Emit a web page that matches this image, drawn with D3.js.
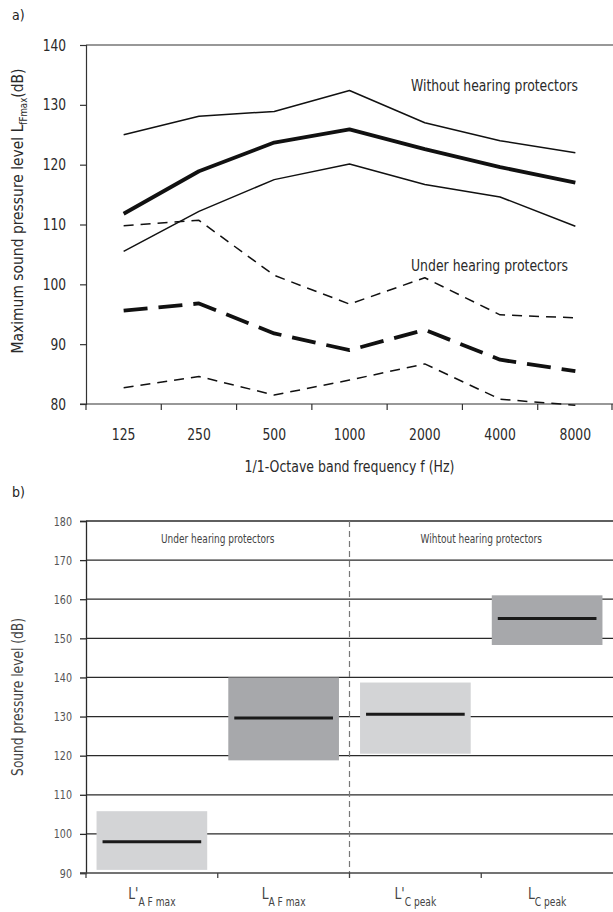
<!DOCTYPE html>
<html>
<head>
<meta charset="utf-8">
<script src="https://cdn.jsdelivr.net/npm/d3@7"></script>
<style>
  html, body { margin: 0; padding: 0; background: #fff; }
  svg { display: block; }
  text { font-family: "Liberation Sans Narrow", "DejaVu Sans Condensed", "Roboto", sans-serif; }
</style>
</head>
<body>
<svg id="chart" width="613" height="912"></svg>
<script>
// ---- Panel a) octave-band maximum levels ----
const bands = ["125", "250", "500", "1000", "2000", "4000", "8000"];
const withoutUpper  = [125.0, 128.1, 128.9, 132.4, 127.0, 124.0, 122.0];
const withoutMean   = [111.8, 118.9, 123.7, 125.9, 122.6, 119.6, 117.0];
const withoutLower  = [105.5, 112.2, 117.5, 120.1, 116.7, 114.6, 109.7];
const underUpper    = [109.8, 110.7, 101.5, 96.7, 101.1, 94.9, 94.4];
const underMean     = [95.6, 96.8, 91.8, 89.0, 92.4, 87.4, 85.5];
const underLower    = [82.7, 84.6, 81.5, 84.0, 86.7, 80.8, 79.8];
const topTicks = [80, 90, 100, 110, 120, 130, 140];

// ---- Panel b) level ranges by metric ----
const metrics = ["L'AFmax", "LAFmax", "L'Cpeak", "LCpeak"];
const metricBase = ["L'", "L", "L'", "L"];
const metricSub = ["A F max", "A F max", "C peak", "C peak"];
const rangeLow    = [90.8, 118.8, 120.5, 148.3];
const rangeHigh   = [105.8, 140.0, 138.7, 161.0];
const rangeMedian = [98.0, 129.6, 130.6, 155.1];
const groupLabels = ["Under hearing protectors", "Wihtout hearing protectors"];
const bottomTicks = [90, 100, 110, 120, 130, 140, 150, 160, 170, 180];

const svg = d3.select("#chart");
const W = 613;

// squeeze text horizontally to a condensed look (factor) or to a fixed length
function condense(sel, factor, fixedLength) {
  sel.each(function () {
    const L = this.getComputedTextLength();
    this.setAttribute("textLength", fixedLength != null ? fixedLength : L * factor);
    this.setAttribute("lengthAdjust", "spacingAndGlyphs");
  });
}

// ================= Panel a =================
const ax = { left: 86, right: W, top: 45, bottom: 404 };
const xA = d3.scaleBand().domain(bands).range([ax.left, ax.right]).padding(0);
const yA = d3.scaleLinear().domain([80, 140]).range([ax.bottom, ax.top]);
const gA = svg.append("g");

svg.append("text").attr("x", 12).attr("y", 20).attr("font-size", 14)
  .attr("fill", "#222").text("a)");

// frame top line
gA.append("line").attr("x1", ax.left).attr("x2", ax.right)
  .attr("y1", yA(140)).attr("y2", yA(140)).attr("stroke", "#333").attr("stroke-width", 1.2);

// y axis
const yAxisA = gA.append("g").attr("transform", `translate(${ax.left},0)`)
  .call(d3.axisLeft(yA).tickValues(topTicks).tickSize(6).tickPadding(14));
yAxisA.select(".domain").attr("stroke", "#333").attr("stroke-width", 1.2);
yAxisA.selectAll(".tick line").attr("stroke", "#333").attr("stroke-width", 1.2);
yAxisA.selectAll(".tick text").attr("font-size", 16).attr("fill", "#2a2a2a")
  .style("font-family", "'Liberation Sans Narrow', 'DejaVu Sans Condensed', sans-serif");

// x axis: labels at band centres, ticks at band boundaries
const xAxisA = gA.append("g").attr("transform", `translate(0,${ax.bottom})`)
  .call(d3.axisBottom(xA).tickSize(0).tickPadding(25));
xAxisA.select(".domain").remove();
xAxisA.selectAll(".tick text").attr("font-size", 16).attr("fill", "#2a2a2a")
  .style("font-family", "'Liberation Sans Narrow', 'DejaVu Sans Condensed', sans-serif");
gA.append("line").attr("x1", ax.left - 6).attr("x2", ax.right)
  .attr("y1", ax.bottom).attr("y2", ax.bottom).attr("stroke", "#333").attr("stroke-width", 1.2);
const boundaries = bands.map(b => xA(b)).concat([ax.right - 1]);
gA.selectAll(".btick").data(boundaries).join("line")
  .attr("x1", d => d).attr("x2", d => d)
  .attr("y1", ax.bottom).attr("y2", ax.bottom + 6)
  .attr("stroke", "#333").attr("stroke-width", 1.2);

// series
const seriesA = [
  { values: withoutUpper, width: 1.5, dash: null },
  { values: withoutMean,  width: 3.8, dash: null },
  { values: withoutLower, width: 1.5, dash: null },
  { values: underUpper,   width: 1.5, dash: "10,7" },
  { values: underMean,    width: 3.8, dash: "24,11" },
  { values: underLower,   width: 1.5, dash: "10,7" }
];
const lineA = d3.line()
  .x((d, i) => xA(bands[i]) + xA.bandwidth() / 2)
  .y(d => yA(d));
gA.selectAll(".series").data(seriesA).join("path")
  .attr("d", s => lineA(s.values))
  .attr("fill", "none").attr("stroke", "#111")
  .attr("stroke-width", s => s.width)
  .attr("stroke-dasharray", s => s.dash)
  .attr("stroke-linejoin", "round");

const noteWithout = gA.append("text").attr("x", 411).attr("y", 91).attr("font-size", 16.5)
  .attr("fill", "#2a2a2a").text("Without hearing protectors");
const noteUnder = gA.append("text").attr("x", 411).attr("y", 271).attr("font-size", 16.5)
  .attr("fill", "#2a2a2a").text("Under hearing protectors");

// axis titles
const yTitleA = gA.append("text")
  .attr("transform", `translate(23,211) rotate(-90)`)
  .attr("text-anchor", "middle").attr("font-size", 16).attr("fill", "#2a2a2a");
yTitleA.append("tspan").text("Maximum sound pressure level L");
yTitleA.append("tspan").attr("font-size", 10).attr("dy", 4).text("fFmax");
yTitleA.append("tspan").attr("dy", -4).text("(dB)");

const xTitleA = gA.append("text").attr("x", (ax.left + ax.right) / 2).attr("y", 472)
  .attr("text-anchor", "middle").attr("font-size", 16.5).attr("fill", "#2a2a2a")
  .text("1/1-Octave band frequency f  (Hz)");

// ================= Panel b =================
const bx = { left: 86, right: W, top: 521, bottom: 873 };
const xB = d3.scaleBand().domain(metrics).range([bx.left, bx.right]).paddingInner(0.16).paddingOuter(0.08);
const xBfull = d3.scaleBand().domain(metrics).range([bx.left, bx.right]).padding(0);
const yB = d3.scaleLinear().domain([90, 180]).range([bx.bottom, bx.top]);
const gB = svg.append("g");

svg.append("text").attr("x", 12).attr("y", 497).attr("font-size", 14)
  .attr("fill", "#222").text("b)");

// gridlines
gB.selectAll(".grid").data(bottomTicks.slice(1)).join("line")
  .attr("x1", bx.left).attr("x2", bx.right)
  .attr("y1", d => yB(d)).attr("y2", d => yB(d))
  .attr("stroke", "#2a2a2a").attr("stroke-width", 1.3);

// range boxes
const boxColors = ["#d3d4d6", "#a7a8ab", "#d3d4d6", "#a7a8ab"];
gB.selectAll(".box").data(metrics).join("rect")
  .attr("x", d => xB(d))
  .attr("width", xB.bandwidth())
  .attr("y", (d, i) => yB(rangeHigh[i]))
  .attr("height", (d, i) => yB(rangeLow[i]) - yB(rangeHigh[i]))
  .attr("fill", (d, i) => boxColors[i]);

gB.selectAll(".median").data(metrics).join("line")
  .attr("x1", d => xB(d) + 6).attr("x2", d => xB(d) + xB.bandwidth() - 6)
  .attr("y1", (d, i) => yB(rangeMedian[i])).attr("y2", (d, i) => yB(rangeMedian[i]))
  .attr("stroke", "#1a1a1a").attr("stroke-width", 3);

// group divider
const divX = xBfull(metrics[2]);
gB.append("line").attr("x1", divX).attr("x2", divX)
  .attr("y1", bx.top).attr("y2", bx.bottom)
  .attr("stroke", "#777").attr("stroke-width", 1.2).attr("stroke-dasharray", "6,4");

// group headers
const groupText = gB.selectAll(".group").data(groupLabels).join("text")
  .attr("x", (d, i) => i === 0 ? (bx.left + divX) / 2 : (divX + bx.right) / 2)
  .attr("y", yB(176) + 6)
  .attr("text-anchor", "middle").attr("font-size", 12.5).attr("fill", "#444")
  .text(d => d);

// y axis
const yAxisB = gB.append("g").attr("transform", `translate(${bx.left},0)`)
  .call(d3.axisLeft(yB).tickValues(bottomTicks).tickSize(6).tickPadding(8));
yAxisB.select(".domain").attr("stroke", "#2a2a2a").attr("stroke-width", 1.3);
yAxisB.selectAll(".tick line").attr("stroke", "#2a2a2a").attr("stroke-width", 1.3);
yAxisB.selectAll(".tick text").attr("font-size", 12.5).attr("fill", "#555")
  .style("font-family", "'Liberation Sans Narrow', 'DejaVu Sans Condensed', sans-serif");

// x axis line and boundary ticks
gB.append("line").attr("x1", bx.left - 6).attr("x2", bx.right)
  .attr("y1", bx.bottom).attr("y2", bx.bottom).attr("stroke", "#444").attr("stroke-width", 1.3);
const bBoundaries = metrics.map(m => xBfull(m));
gB.selectAll(".bbtick").data(bBoundaries).join("line")
  .attr("x1", d => d).attr("x2", d => d)
  .attr("y1", bx.bottom).attr("y2", bx.bottom + 5)
  .attr("stroke", "#444").attr("stroke-width", 1.3);

// category labels with subscripts
const catLabels = gB.selectAll(".cat").data(metrics).join("text")
  .attr("x", d => xBfull(d) + xBfull.bandwidth() / 2)
  .attr("y", bx.bottom + 26)
  .attr("text-anchor", "middle").attr("font-size", 15.5).attr("fill", "#444");
catLabels.append("tspan").text((d, i) => metricBase[i]);
catLabels.append("tspan").attr("font-size", 11.5).attr("dy", 7).text((d, i) => metricSub[i]);

// y title
const yTitleB = gB.append("text")
  .attr("transform", `translate(23,697) rotate(-90)`)
  .attr("text-anchor", "middle").attr("font-size", 16).attr("fill", "#444")
  .text("Sound pressure level (dB)");

// condensed lettering
condense(yAxisA.selectAll(".tick text"), 0.85);
condense(xAxisA.selectAll(".tick text"), 0.86);
condense(noteWithout, null, 167);
condense(noteUnder, null, 157);
condense(xTitleA, null, 210);
condense(yTitleA, null, 285);
condense(yAxisB.selectAll(".tick text"), 0.85);
condense(groupText, 0.8);
condense(catLabels, 0.88);
condense(yTitleB, 0.85);
</script>
</body>
</html>
